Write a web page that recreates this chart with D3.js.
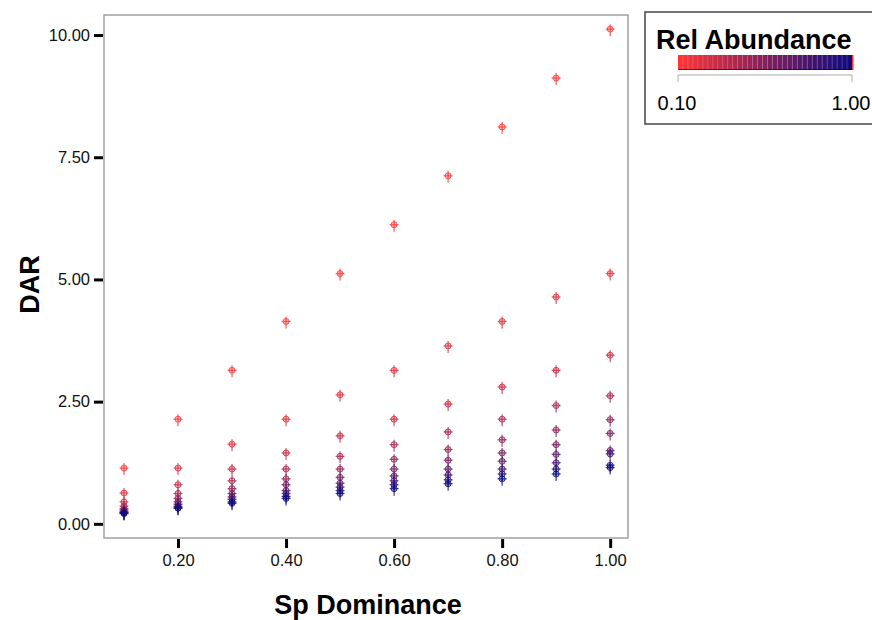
<!DOCTYPE html>
<html>
<head>
<meta charset="utf-8">
<script src="https://cdn.jsdelivr.net/npm/d3@7"></script>
<style>
  body { margin: 0; background: #fff; }
  text { font-family: "Liberation Sans", Arial, sans-serif; }
</style>
</head>
<body>
<div id="chart-area"></div>
<script>

// data: one array of DAR values per Rel Abundance level,
// ordered by Sp Dominance
let spDominance = [0.1, 0.2, 0.3, 0.4, 0.5, 0.6, 0.7, 0.8, 0.9, 1.0];
let relAbundance = [0.1, 0.2, 0.3, 0.4, 0.5, 0.6, 0.7, 0.8, 0.9, 1.0];

let dar_r01 = [1.14, 2.14, 3.14, 4.14, 5.12, 6.12, 7.12, 8.12, 9.12, 10.12];
let dar_r02 = [0.63, 1.14, 1.63, 2.14, 2.64, 3.14, 3.64, 4.14, 4.64, 5.12];
let dar_r03 = [0.45, 0.80, 1.12, 1.45, 1.80, 2.14, 2.45, 2.80, 3.14, 3.45];
let dar_r04 = [0.36, 0.62, 0.88, 1.12, 1.38, 1.62, 1.88, 2.14, 2.42, 2.62];
let dar_r05 = [0.31, 0.52, 0.72, 0.92, 1.12, 1.32, 1.52, 1.72, 1.92, 2.13];
let dar_r06 = [0.28, 0.45, 0.62, 0.80, 0.95, 1.12, 1.30, 1.45, 1.62, 1.85];
let dar_r07 = [0.25, 0.40, 0.55, 0.68, 0.83, 0.98, 1.12, 1.28, 1.42, 1.50];
let dar_r08 = [0.23, 0.36, 0.50, 0.62, 0.75, 0.88, 1.00, 1.12, 1.25, 1.43];
let dar_r09 = [0.22, 0.33, 0.45, 0.56, 0.68, 0.80, 0.90, 1.02, 1.12, 1.20];
let dar_r10 = [0.21, 0.32, 0.42, 0.52, 0.62, 0.72, 0.82, 0.92, 1.02, 1.15];

let darSeries = [dar_r01, dar_r02, dar_r03, dar_r04, dar_r05,
	dar_r06, dar_r07, dar_r08, dar_r09, dar_r10];

let xTicks = [0.2, 0.4, 0.6, 0.8, 1.0];
let yTicks = [0, 2.5, 5, 7.5, 10];
let legendTicks = [0.1, 1.0];

// flatten into points
let points = [];
darSeries.forEach((series, i) => {
	series.forEach((v, j) => {
		points.push({x: spDominance[j], y: v, r: relAbundance[i]});
	});
});

// margin conventions
let margin = {top: 15, right: 244, bottom: 82, left: 104};
let width = 872 - margin.left - margin.right;
let height = 620 - margin.top - margin.bottom;

let root = d3.select("#chart-area").append("svg")
	.attr("width", 872)
	.attr("height", 620);

let svg = root.append("g")
	.attr("transform", "translate(" + margin.left + "," + margin.top + ")");

// Scales
let x = d3.scaleLinear()
	.domain([0.063, 1.033])
	.range([0, width]);

let y = d3.scaleLinear()
	.domain([-0.29, 10.41])
	.range([height, 0]);

let color = d3.scaleLinear()
	.domain([0.1, 1.0])
	.range(["#ff3636", "#0a0a80"])
	.interpolate(d3.interpolateRgb);

// frame
svg.append("rect")
	.attr("x", 0)
	.attr("y", 0)
	.attr("width", width)
	.attr("height", height)
	.style("fill", "none")
	.style("stroke", "#a0a0a0")
	.style("stroke-width", 1.5);

// Axes
let xAxis = d3.axisBottom(x)
	.tickValues(xTicks)
	.tickFormat(d3.format(".2f"))
	.tickSize(9)
	.tickPadding(6);

let yAxis = d3.axisLeft(y)
	.tickValues(yTicks)
	.tickFormat(d3.format(".2f"))
	.tickSize(9)
	.tickPadding(4);

let xAxisGroup = svg.append("g")
	.attr("transform", "translate(0," + (height + 1) + ")")
	.call(xAxis);

let yAxisGroup = svg.append("g")
	.attr("transform", "translate(-1,0)")
	.call(yAxis);

[xAxisGroup, yAxisGroup].forEach(g => {
	g.select(".domain").remove();
	g.selectAll(".tick line")
		.style("stroke", "#000")
		.style("stroke-width", 3);
	g.selectAll(".tick text")
		.style("font-size", "16.5px")
		.style("fill", "#111")
		.style("font-family", "'Liberation Sans', Arial, sans-serif");
});

// axis titles
root.append("text")
	.attr("x", margin.left + width / 2 + 2)
	.attr("y", 614)
	.attr("text-anchor", "middle")
	.style("font-size", "27px")
	.style("font-weight", "bold")
	.text("Sp Dominance");

root.append("text")
	.attr("transform", "translate(39," + (margin.top + height / 2 + 8) + ") rotate(-90)")
	.attr("text-anchor", "middle")
	.style("font-size", "27px")
	.style("font-weight", "bold")
	.text("DAR");

// points: circle with crosshair
let dots = svg.selectAll(".pt")
	.data(points)
	.enter()
	.append("g")
	.classed("pt", true)
	.attr("transform", d => "translate(" + x(d.x) + "," + y(d.y) + ")");

dots.append("line")
	.attr("x1", 0).attr("x2", 0)
	.attr("y1", -5).attr("y2", 7)
	.style("stroke", d => color(d.r))
	.style("stroke-opacity", 0.75)
	.style("stroke-width", 1.3);

dots.append("line")
	.attr("x1", -4.5).attr("x2", 4.5)
	.attr("y1", 0).attr("y2", 0)
	.style("stroke", d => color(d.r))
	.style("stroke-opacity", 0.75)
	.style("stroke-width", 1.3);

dots.append("circle")
	.attr("r", 3)
	.style("fill", d => color(d.r))
	.style("fill-opacity", 0.35)
	.style("stroke", d => color(d.r))
	.style("stroke-opacity", 0.8)
	.style("stroke-width", 1);

// legend
let legend = root.append("g")
	.attr("transform", "translate(645,12)");

legend.append("rect")
	.attr("x", 0)
	.attr("y", 0)
	.attr("width", 240)
	.attr("height", 112)
	.style("fill", "#fff")
	.style("stroke", "#444")
	.style("stroke-width", 1.5);

legend.append("text")
	.attr("x", 11)
	.attr("y", 37)
	.style("font-size", "27px")
	.style("font-weight", "bold")
	.text("Rel Abundance");

let lx = d3.scaleLinear()
	.domain([0.1, 1.0])
	.range([33, 207]);

let segs = d3.range(0.1, 1.0, 0.9 / 35);
legend.selectAll(".seg")
	.data(segs)
	.enter()
	.append("rect")
	.classed("seg", true)
	.attr("x", d => lx(d))
	.attr("y", 43)
	.attr("width", 174 / 35 + 0.2)
	.attr("height", 15)
	.style("fill", d => color(d + 0.45 / 35));

legend.selectAll(".segline")
	.data(segs.slice(1))
	.enter()
	.append("line")
	.attr("x1", d => lx(d)).attr("x2", d => lx(d))
	.attr("y1", 43).attr("y2", 57)
	.style("stroke", "#fff")
	.style("stroke-opacity", 0.25)
	.style("stroke-width", 0.7);

legend.append("line")
	.attr("x1", 33).attr("x2", 207)
	.attr("y1", 57.5).attr("y2", 57.5)
	.style("stroke", "#000")
	.style("stroke-opacity", 0.55)
	.style("stroke-width", 1.2);

legend.append("rect")
	.attr("x", 207)
	.attr("y", 43)
	.attr("width", 1.5)
	.attr("height", 15)
	.style("fill", "#ff3030");

legend.append("path")
	.attr("d", "M" + lx(0.1) + ",70V63H" + lx(1.0) + "V70")
	.style("fill", "none")
	.style("stroke", "#aaa")
	.style("stroke-width", 1);

legend.selectAll(".ltick")
	.data(legendTicks)
	.enter()
	.append("text")
	.attr("x", d => lx(d) - 1)
	.attr("y", 98)
	.attr("text-anchor", "middle")
	.style("font-size", "20px")
	.text(d => d3.format(".2f")(d));

</script>
</body>
</html>
